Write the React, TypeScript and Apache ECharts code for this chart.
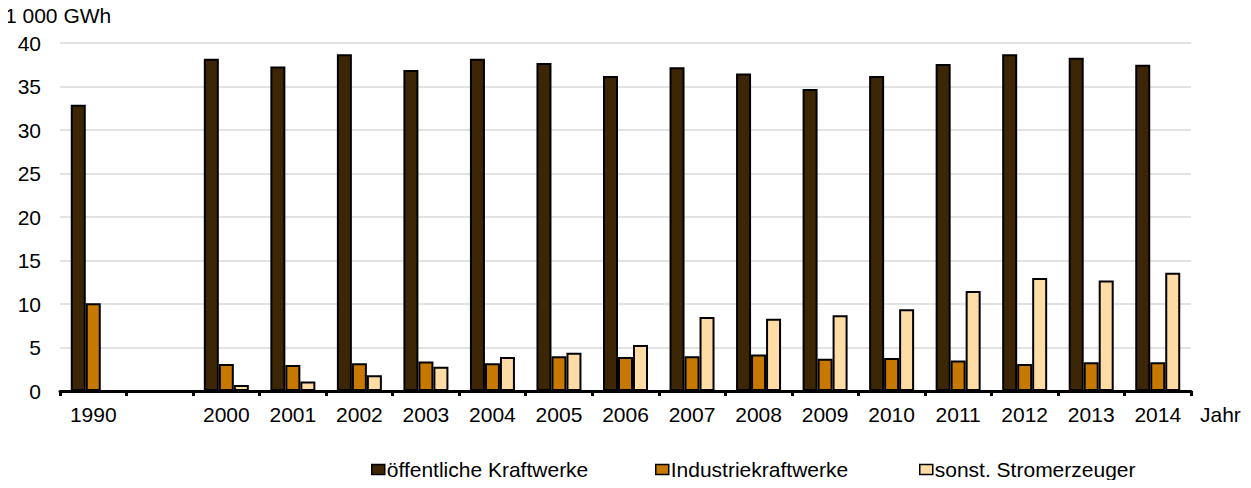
import React, { useEffect, useRef } from "react";
import * as echarts from "echarts";

const years = ["1990", "", "2000", "2001", "2002", "2003", "2004", "2005", "2006", "2007", "2008", "2009", "2010", "2011", "2012", "2013", "2014"];
const oeffentliche = [32.9, null, 38.2, 37.3, 38.7, 36.9, 38.2, 37.7, 36.2, 37.2, 36.5, 34.7, 36.2, 37.6, 38.7, 38.3, 37.5];
const industrie = [10.1, null, 3.1, 3.0, 3.2, 3.4, 3.2, 4.0, 3.9, 4.0, 4.2, 3.7, 3.8, 3.5, 3.1, 3.3, 3.3];
const sonstige = [null, null, 0.7, 1.1, 1.8, 2.8, 3.9, 4.4, 5.3, 8.5, 8.3, 8.7, 9.4, 11.5, 13.0, 12.7, 13.6];
const seriesNames = ["öffentliche Kraftwerke", "Industriekraftwerke", "sonst. Stromerzeuger"];
const colors = ["#3D2605", "#C77800", "#FFDCA6"];

const FONT = "'Liberation Sans', Arial, sans-serif";
const legendLeft = [371, 655, 919];

export default function App() {
  const ref = useRef<HTMLDivElement>(null);

  useEffect(() => {
    if (!ref.current) return;
    const chart = echarts.init(ref.current, null, { renderer: "svg" });
    const values = [oeffentliche, industrie, sonstige];
    chart.setOption({
      animation: false,
      textStyle: { fontFamily: FONT },
      grid: { left: 60, right: 60, top: 43, bottom: 97 },
      legend: seriesNames.map((name, i) => ({
        left: legendLeft[i],
        top: 459,
        padding: 0,
        itemWidth: 13,
        itemHeight: 10,
        icon: "rect",
        itemStyle: { borderColor: "#000", borderWidth: 1.5 },
        textStyle: { fontSize: 21, color: "#000", fontFamily: FONT, padding: [0, 0, 0, -3] },
        data: [name],
      })),
      xAxis: {
        type: "category",
        data: years,
        axisLine: { lineStyle: { color: "#000", width: 3 } },
        axisTick: { show: true, length: 5, lineStyle: { color: "#000", width: 3 } },
        axisLabel: { fontSize: 21, color: "#000", margin: 13, interval: 0, fontFamily: FONT },
      },
      yAxis: {
        type: "value",
        min: 0,
        max: 40,
        interval: 5,
        axisLine: { show: false },
        axisTick: { show: false },
        axisLabel: { fontSize: 21, color: "#000", margin: 19, fontFamily: FONT },
        splitLine: { lineStyle: { color: "#D9D9D9", width: 1.5 } },
      },
      graphic: [
        {
          type: "text",
          left: 5,
          top: 5,
          style: { text: "1 000 GWh", fontSize: 21, fill: "#000", fontFamily: FONT },
        },
        {
          type: "text",
          left: 1200,
          top: 404,
          style: { text: "Jahr", fontSize: 21, fill: "#000", fontFamily: FONT },
        },
      ],
      series: seriesNames.map((name, i) => ({
        name,
        type: "bar",
        data: values[i],
        barWidth: 15,
        barGap: "0%",
        itemStyle: { color: colors[i], borderColor: "#000", borderWidth: 2 },
      })),
    });
    return () => chart.dispose();
  }, []);

  return <div ref={ref} style={{ width: 1251, height: 488, margin: -8 }} />;
}
